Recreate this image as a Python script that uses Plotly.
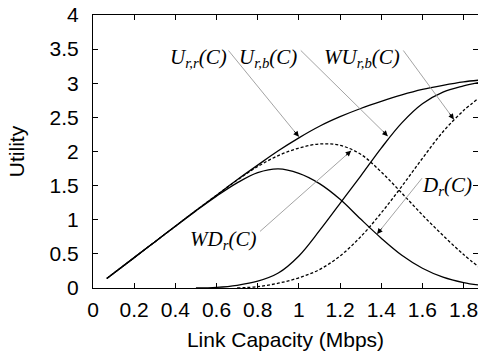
import plotly.graph_objects as go

# ---- data ----
capacity = [0.067, 0.2, 0.3, 0.4, 0.5, 0.6, 0.7, 0.8, 0.9, 1.0, 1.1, 1.2, 1.3, 1.4,
            1.5, 1.6, 1.7, 1.8, 1.873]
U_rr = [0.14, 0.445, 0.675, 0.905, 1.135, 1.36, 1.585, 1.80, 2.01, 2.20, 2.37, 2.51,
        2.63, 2.735, 2.83, 2.91, 2.97, 3.02, 3.045]
U_rb = [None, None, None, None, 0.0, 0.01, 0.04, 0.10, 0.22, 0.47, 0.84, 1.24,
        1.64, 2.05, 2.42, 2.70, 2.87, 2.96, 3.01]
WU_rb = [None, None, None, None, None, None, 0.0, 0.02, 0.07, 0.15, 0.27, 0.47,
         0.75, 1.10, 1.49, 1.90, 2.29, 2.60, 2.78]
D_r = [0.14, 0.445, 0.675, 0.905, 1.13, 1.345, 1.54, 1.69, 1.745, 1.68, 1.53, 1.30,
       1.01, 0.73, 0.48, 0.29, 0.16, 0.08, 0.044]
WD_r = [0.14, 0.445, 0.675, 0.905, 1.135, 1.36, 1.58, 1.78, 1.94, 2.05, 2.11, 2.09,
        1.96, 1.70, 1.39, 1.07, 0.77, 0.49, 0.31]

x_ticks = [0, 0.2, 0.4, 0.6, 0.8, 1.0, 1.2, 1.4, 1.6, 1.8]
x_ticklabels = ["0", "0.2", "0.4", "0.6", "0.8", "1", "1.2", "1.4", "1.6", "1.8"]
y_ticks = [0, 0.5, 1, 1.5, 2, 2.5, 3, 3.5, 4]
y_ticklabels = ["0", "0.5", "1", "1.5", "2", "2.5", "3", "3.5", "4"]

X_MAX = 1.87
Y_MAX = 4

fig = go.Figure()

series = [
    (U_rr, "solid"),
    (U_rb, "solid"),
    (WU_rb, "3px,2px"),
    (D_r, "solid"),
    (WD_r, "3px,2px"),
]
for ys, dash in series:
    fig.add_trace(go.Scatter(
        x=capacity, y=ys, mode="lines",
        line=dict(color="black", width=1.3, dash=dash, shape="spline", smoothing=1.0),
        showlegend=False, hoverinfo="skip"))

# dummy trace for the right-side (mirror) ticks
fig.add_trace(go.Scatter(x=[None], y=[None], yaxis="y2", showlegend=False, hoverinfo="skip"))

# ---- labels and arrows ----
label_font = dict(family="Liberation Serif, Times New Roman, serif", size=21, color="black")
labels = [
    ("<i>U<sub>r,r</sub>(C)</i>", 0.365, 3.37),
    ("<i>U<sub>r,b</sub>(C)</i>", 0.700, 3.37),
    ("<i>WU<sub>r,b</sub>(C)</i>", 1.112, 3.37),
    ("<i>D<sub>r</sub>(C)</i>", 1.590, 1.50),
    ("<i>WD<sub>r</sub>(C)</i>", 0.462, 0.70),
]
for txt, lx, ly in labels:
    fig.add_annotation(x=lx, y=ly, text=txt, showarrow=False, xanchor="left",
                       yanchor="middle", font=label_font)

arrows = [  # tail x, tail y, head x, head y
    (0.652, 3.502, 1.000, 2.215),
    (1.002, 3.502, 1.432, 2.225),
    (1.502, 3.502, 1.753, 2.470),
    (1.604, 1.631, 1.380, 0.790),
    (0.804, 0.810, 1.254, 2.012),
]
ppx = 385 / X_MAX
ppy = 273 / Y_MAX
for tx, ty, hx, hy in arrows:
    fig.add_annotation(x=hx, y=hy, ax=tx, ay=ty, axref="x", ayref="y", text="",
                       showarrow=True, arrowhead=0, arrowwidth=0.8, arrowcolor="#8c8c8c",
                       standoff=0)
    dx = (tx - hx) * ppx
    dy = -(ty - hy) * ppy
    n = (dx * dx + dy * dy) ** 0.5
    fig.add_annotation(x=hx, y=hy, ax=dx / n * 9, ay=dy / n * 9, text="",
                       showarrow=True, arrowhead=2, arrowsize=1.1, arrowwidth=1,
                       arrowcolor="black", standoff=0)

axis_common = dict(showgrid=False, zeroline=False, ticks="inside", ticklen=5,
                   tickcolor="black", tickwidth=1)
tick_font = dict(family="Liberation Sans, Arial, sans-serif", size=21, color="black")

fig.update_layout(
    width=478, height=358,
    margin=dict(l=93, r=0, t=15, b=70),
    plot_bgcolor="white", paper_bgcolor="white",
    font=dict(family="Liberation Sans, Arial, sans-serif", size=21, color="black"),
    showlegend=False,
    xaxis=dict(range=[0, X_MAX], tickvals=x_ticks, ticktext=x_ticklabels,
               showline=True, linecolor="black", linewidth=1, mirror="ticks",
               ticklabelstandoff=3, ticklabeloverflow="allow", tickfont=tick_font,
               title=dict(text="Link Capacity (Mbps)", standoff=12, font=tick_font),
               **axis_common),
    yaxis=dict(range=[0, Y_MAX], tickvals=y_ticks, ticktext=y_ticklabels,
               showline=True, linecolor="black", linewidth=1,
               ticklabelstandoff=9, tickfont=tick_font,
               title=dict(text="Utility", standoff=19, font=tick_font), **axis_common),
    yaxis2=dict(range=[0, Y_MAX], tickvals=y_ticks, overlaying="y", side="right",
                showline=False, showticklabels=False, **axis_common),
)

fig.write_html("out.html")
